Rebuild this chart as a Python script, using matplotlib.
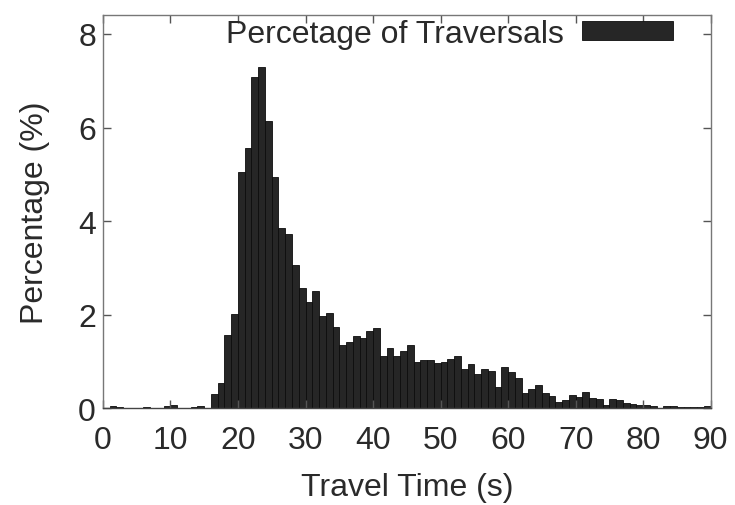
import matplotlib
matplotlib.use("Agg")
import matplotlib.pyplot as plt
import numpy as np

# Bin left edges (seconds) and percentage of traversals per 1-s bin
bin_starts = list(range(0, 90))
percentages = [
    0.00, 0.05, 0.02, 0.00, 0.00, 0.00, 0.03, 0.00, 0.00, 0.05,  # 0-9
    0.07, 0.00, 0.00, 0.02, 0.04, 0.00, 0.31, 0.55, 1.57, 2.02,  # 10-19
    5.06, 5.56, 7.08, 7.29, 6.13, 4.94, 3.85, 3.73, 3.07, 2.58,  # 20-29
    2.27, 2.50, 1.97, 2.03, 1.73, 1.36, 1.42, 1.54, 1.51, 1.66,  # 30-39
    1.72, 1.11, 1.28, 1.12, 1.23, 1.35, 0.99, 1.03, 1.03, 0.96,  # 40-49
    0.98, 1.05, 1.12, 0.84, 0.94, 0.73, 0.84, 0.80, 0.46, 0.89,  # 50-59
    0.78, 0.64, 0.33, 0.42, 0.49, 0.32, 0.26, 0.13, 0.18, 0.29,  # 60-69
    0.24, 0.36, 0.22, 0.19, 0.08, 0.19, 0.17, 0.12, 0.10, 0.08,  # 70-79
    0.08, 0.06, 0.00, 0.04, 0.04, 0.03, 0.02, 0.02, 0.02, 0.05,  # 80-89
]
legend_label = "Percetage of Traversals"
x_label = "Travel Time (s)"
y_label = "Percentage (%)"
x_ticks = [0, 10, 20, 30, 40, 50, 60, 70, 80, 90]
y_ticks = [0, 2, 4, 6, 8]

plt.rcParams['font.family'] = ['Liberation Sans', 'DejaVu Sans']

fig = plt.figure(figsize=(7.35, 5.06), dpi=100)
ax = fig.add_axes([0.140, 0.191, 0.827, 0.777])

ax.bar(bin_starts, percentages, width=1.0, align='edge',
       color='#262626', edgecolor='#0d0d0d', linewidth=0.6,
       label=legend_label)

ax.set_xlim(0, 90)
ax.set_ylim(0, 8.4)
ax.set_xticks(x_ticks)
ax.set_yticks(y_ticks)
ax.tick_params(direction='in', length=6, width=1, color='#555555',
               top=True, right=True, labelsize=23, labelcolor='#2a2a2a')
ax.tick_params(axis='x', pad=12)
ax.tick_params(axis='y', pad=5)
for s in ax.spines.values():
    s.set_color('#777777')
    s.set_linewidth(1.0)
ax.spines['bottom'].set_color('#444444')

ax.set_xlabel(x_label, fontsize=23, color='#2a2a2a', labelpad=12)
ax.set_ylabel(y_label, fontsize=23, color='#2a2a2a', labelpad=20)

leg = ax.legend(loc='center right', frameon=False, fontsize=23,
                markerfirst=False, handlelength=2.85, handleheight=0.55,
                handletextpad=0.55, borderaxespad=0.0, borderpad=0.0,
                bbox_to_anchor=(0.9375, 0.952))
for t in leg.get_texts():
    t.set_color('#2a2a2a')

fig.savefig("out.png", dpi=100)
